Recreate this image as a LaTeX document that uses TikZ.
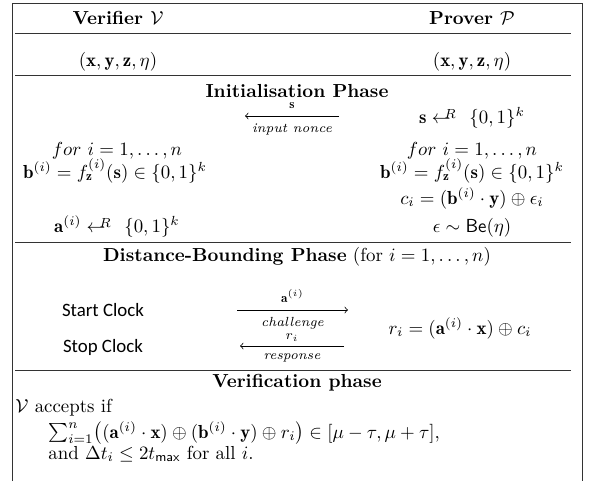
\documentclass[tikz,border=0pt]{standalone}
\usepackage{amsmath,amssymb}
\usepackage{fontspec}
\newfontfamily\clockfont{Carlito}
\usetikzlibrary{positioning}
\newcommand{\rndfrom}{\mathrel{\leftarrow\mkern-11mu\raisebox{0.6ex}{$\scriptstyle R$}\mkern2mu}}

\begin{document}
\begin{tikzpicture}[
    x=0.53pt,
    y=-0.53pt,
    rule/.style={line width=0.5pt, black!80},
    txt/.style={anchor=base, inner sep=0pt},
    lbl/.style={font=\scriptsize, inner sep=3.8pt}
]
  \useasboundingbox (0,0) rectangle (596,481);
  % frame and rules
  \draw[line width=0.5pt, black!80] (12,481) -- (12,3) -- (582,3) -- (582,481);
  \draw[rule] (15,33) -- (571,33);
  \draw[rule] (15,75) -- (571,75);
  \draw[rule] (15,242) -- (571,242);
  \draw[rule] (15,370) -- (571,370);

  % parties
  \node[txt] (vhead) at (118,24) {\bfseries Verifier $\mathcal{V}$};
  \node[txt] (phead) at (472,24) {\bfseries Prover $\mathcal{P}$};
  \node[txt] (vkey) at (118,66) {$(\mathbf{x},\mathbf{y},\mathbf{z},\eta)$};
  \node[txt] (pkey) at (472,66) {$(\mathbf{x},\mathbf{y},\mathbf{z},\eta)$};

  % initialisation
  \node[txt] (init) at (297,97) {\bfseries Initialisation Phase};
  \coordinate (n0) at (245,116);
  \coordinate (n1) at (339,116);
  \draw[->] (n1) -- (n0)
    node[midway, above, lbl] {$\mathbf{s}$}
    node[midway, below, lbl] {\itshape input nonce};
  \node[txt] (pnonce) at (472,123) {$\mathbf{s} \rndfrom\ \{0,1\}^k$};
  \node[txt] (vfor) at (117,155) {$for\ i = 1,\ldots,n$};
  \node[txt] (pfor) at (472,155) {$for\ i = 1,\ldots,n$};
  \node[txt] (vb) at (115,178) {$\mathbf{b}^{(i)} = f_{\mathbf{z}}^{(i)}(\mathbf{s}) \in \{0,1\}^k$};
  \node[txt] (pb) at (472,178) {$\mathbf{b}^{(i)} = f_{\mathbf{z}}^{(i)}(\mathbf{s}) \in \{0,1\}^k$};
  \node[txt] (pc) at (472,204) {$c_i = (\mathbf{b}^{(i)} \cdot \mathbf{y}) \oplus \epsilon_i$};
  \node[txt] (va) at (117,232) {$\mathbf{a}^{(i)} \rndfrom\ \{0,1\}^k$};
  \node[txt] (pe) at (472,232) {$\epsilon \sim \mathsf{Be}(\eta)$};

  % distance bounding
  \node[txt] (db) at (297,261) {\textbf{Distance-Bounding Phase} (for $i = 1,\ldots,n$)};
  \node[txt] (start) at (103,316) {\clockfont Start Clock};
  \node[txt] (stop) at (103,352) {\clockfont Stop Clock};
  \coordinate (c0) at (237,310);
  \coordinate (c1) at (348,310);
  \draw[->] (c0) -- (c1)
    node[midway, above, lbl] {$\mathbf{a}^{(i)}$}
    node[midway, below, lbl] {\itshape challenge};
  \coordinate (r0) at (240,346);
  \coordinate (r1) at (344,346);
  \draw[->] (r1) -- (r0)
    node[midway, above, lbl, inner sep=2pt] {$r_i$}
    node[midway, below, lbl] {\itshape response};
  \node[txt] (pr) at (460,334) {$r_i = (\mathbf{a}^{(i)} \cdot \mathbf{x}) \oplus c_i$};

  % verification
  \node[txt] (ver) at (297,387) {\bfseries Verification phase};
  \node[txt, anchor=base west] (acc) at (15,412) {$\mathcal{V}$ accepts if};
  \node[txt, anchor=base west] (sum) at (48,438)
    {$\sum_{i=1}^{n} \bigl((\mathbf{a}^{(i)} \cdot \mathbf{x}) \oplus (\mathbf{b}^{(i)} \cdot \mathbf{y}) \oplus r_i\bigr) \in [\mu-\tau,\mu+\tau]$,};
  \node[txt, anchor=base west] (cond) at (48,459) {and $\Delta t_i \leq 2t_{\mathsf{max}}$ for all $i$.};
\end{tikzpicture}
\end{document}
